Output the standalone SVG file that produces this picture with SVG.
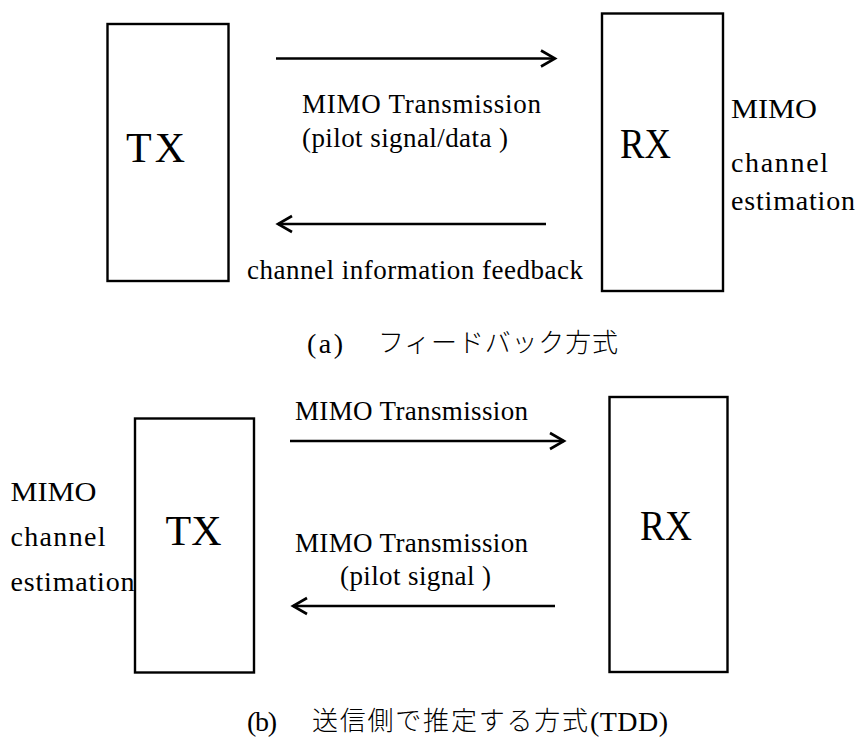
<svg xmlns="http://www.w3.org/2000/svg" width="861" height="740" viewBox="0 0 861 740">
  <style>
    .box { fill: #fff; stroke: #000; stroke-width: 2.4; }
    .lbl { font-family: "Liberation Serif", "Times New Roman", "DejaVu Serif", serif; fill: #000; }
    .jp { font-family: "Noto Sans CJK JP", sans-serif; font-weight: 300; fill: #000; font-size: 26px; }
    .big { font-size: 42px; }
    .mid { font-size: 27px; }
    .note { font-size: 28px; }
    .cap { font-size: 28px; }
    .wire { stroke: #000; stroke-width: 2.6; fill: none; marker-end: url(#chev); }
  </style>
  <defs>
    <marker id="chev" markerUnits="userSpaceOnUse" viewBox="-16 -10 18 20" refX="0" refY="0" markerWidth="18" markerHeight="20" orient="auto" overflow="visible">
      <path d="M -14 -8 L 0 0 L -14 8" fill="none" stroke="#000" stroke-width="2.6" stroke-linejoin="miter"/>
    </marker>
  </defs>

  <rect width="861" height="740" fill="#fff"/>

  <!-- (a) feedback scheme -->
  <g id="tx-a">
    <rect class="box" x="107.5" y="24" width="121" height="257"/>
    <text class="lbl big" x="126" y="162" textLength="59" lengthAdjust="spacing">TX</text>
  </g>
  <g id="rx-a">
    <rect class="box" x="602" y="13.5" width="121" height="277.5"/>
    <text class="lbl big" x="620" y="158" textLength="51" lengthAdjust="spacingAndGlyphs">RX</text>
  </g>
  <g id="rx-a-note">
    <text class="lbl note" x="731" y="118" textLength="86" lengthAdjust="spacingAndGlyphs">MIMO</text>
    <text class="lbl note" x="731" y="172" textLength="97" lengthAdjust="spacing">channel</text>
    <text class="lbl note" x="731" y="210" textLength="124" lengthAdjust="spacing">estimation</text>
  </g>

  <!-- (b) transmitter-side estimation (TDD) -->
  <g id="tx-b">
    <rect class="box" x="135" y="418.5" width="119" height="254"/>
    <text class="lbl big" x="165.5" y="545" textLength="56" lengthAdjust="spacing">TX</text>
  </g>
  <g id="rx-b">
    <rect class="box" x="609.5" y="397" width="118" height="275"/>
    <text class="lbl big" x="640" y="540" textLength="52" lengthAdjust="spacingAndGlyphs">RX</text>
  </g>
  <g id="tx-b-note">
    <text class="lbl note" x="10.5" y="501" textLength="86" lengthAdjust="spacingAndGlyphs">MIMO</text>
    <text class="lbl note" x="10.5" y="546" textLength="95" lengthAdjust="spacing">channel</text>
    <text class="lbl note" x="10.5" y="591" textLength="124" lengthAdjust="spacing">estimation</text>
  </g>

  <g id="connectors">
    <line class="wire" x1="276" y1="58.5" x2="555" y2="58.5"/>
    <line class="wire" x1="546" y1="224" x2="278" y2="224"/>
    <line class="wire" x1="290" y1="441" x2="564" y2="441"/>
    <line class="wire" x1="555" y1="606" x2="293" y2="606"/>
  </g>

  <g id="connector-labels">
    <text class="lbl mid" x="302" y="113" textLength="239" lengthAdjust="spacing">MIMO Transmission</text>
    <text class="lbl mid" x="302" y="146.5" textLength="206" lengthAdjust="spacing">(pilot signal/data )</text>
    <text class="lbl mid" x="247" y="279" textLength="336" lengthAdjust="spacing">channel information feedback</text>
    <text class="lbl mid" x="295" y="420" textLength="233" lengthAdjust="spacing">MIMO Transmission</text>
    <text class="lbl mid" x="295" y="551.5" textLength="233" lengthAdjust="spacing">MIMO Transmission</text>
    <text class="lbl mid" x="340" y="585" textLength="151" lengthAdjust="spacing">(pilot signal )</text>
  </g>

  <g id="captions">
    <text class="lbl cap" x="307" y="353" textLength="36" lengthAdjust="spacing">(a)</text>
    <text class="jp" x="378" y="352" textLength="240" lengthAdjust="spacing">フィードバック方式</text>
    <text class="lbl cap" x="247" y="731" textLength="30" lengthAdjust="spacing">(b)</text>
    <text class="jp" x="312" y="730" textLength="276" lengthAdjust="spacing">送信側で推定する方式</text>
    <text class="lbl cap" x="590" y="731" textLength="78" lengthAdjust="spacing">(TDD)</text>
  </g>
</svg>
